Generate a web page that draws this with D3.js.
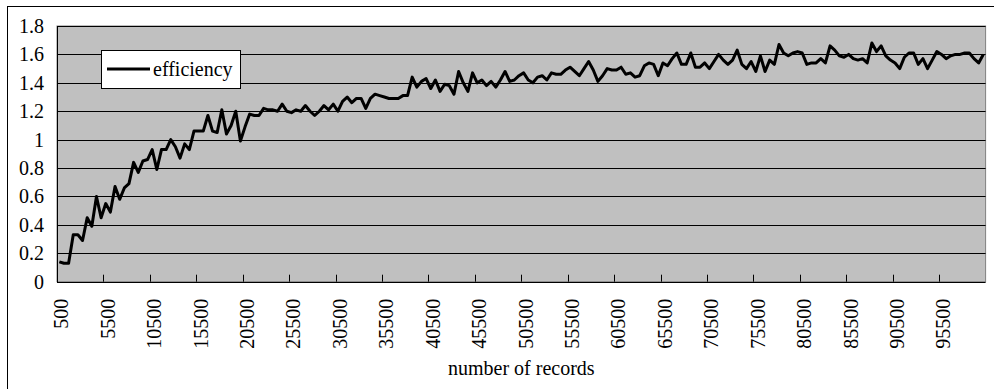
<!DOCTYPE html>
<html lang="en">
<head>
	<meta charset="utf-8">
	<title>efficiency vs number of records</title>
	<script src='https://d3js.org/d3.v7.min.js'></script>
	<style>
		body { margin:0; background:#fff; }
		text { font-family:"Liberation Serif","Times New Roman",serif; fill:#000; }
	</style>
</head>
<body>
	<div id="chart"></div>
	<script>
		// number of records: 500 .. 100000, step 500 (200 categories)
		var categories = d3.range(500, 100001, 500);
		var tickLabels = ["500","5500","10500","15500","20500","25500","30500","35500","40500","45500",
			"50500","55500","60500","65500","70500","75500","80500","85500","90500","95500"];
		var yTicks = [0, 0.2, 0.4, 0.6, 0.8, 1, 1.2, 1.4, 1.6, 1.8];
		var efficiency = [
			0.14,0.13,0.13,0.33,0.33,0.29,0.45,0.39,0.60,0.45,
			0.55,0.49,0.67,0.58,0.66,0.69,0.84,0.77,0.85,0.86,
			0.93,0.79,0.93,0.93,1.00,0.95,0.87,0.97,0.93,1.06,
			1.06,1.06,1.17,1.06,1.05,1.21,1.04,1.10,1.20,0.99,
			1.09,1.18,1.17,1.17,1.22,1.21,1.21,1.20,1.25,1.20,
			1.19,1.21,1.20,1.24,1.20,1.17,1.20,1.24,1.21,1.25,
			1.20,1.27,1.30,1.26,1.29,1.29,1.22,1.29,1.32,1.31,
			1.30,1.29,1.29,1.29,1.31,1.31,1.44,1.37,1.41,1.43,
			1.36,1.42,1.34,1.39,1.38,1.32,1.48,1.40,1.34,1.47,
			1.40,1.42,1.38,1.41,1.37,1.42,1.48,1.41,1.42,1.45,
			1.47,1.42,1.40,1.44,1.45,1.42,1.47,1.46,1.46,1.49,
			1.51,1.48,1.45,1.50,1.55,1.49,1.41,1.45,1.50,1.49,
			1.49,1.51,1.46,1.47,1.44,1.45,1.52,1.54,1.53,1.45,
			1.54,1.52,1.57,1.61,1.53,1.53,1.61,1.51,1.51,1.54,
			1.50,1.55,1.60,1.56,1.53,1.56,1.63,1.53,1.50,1.55,
			1.48,1.59,1.48,1.56,1.53,1.67,1.61,1.59,1.61,1.62,
			1.61,1.53,1.54,1.54,1.57,1.54,1.66,1.63,1.59,1.58,
			1.60,1.57,1.56,1.57,1.54,1.68,1.62,1.66,1.59,1.56,
			1.54,1.50,1.58,1.61,1.61,1.53,1.57,1.50,1.56,1.62,
			1.60,1.57,1.59,1.60,1.60,1.61,1.61,1.57,1.54,1.60
		];
		var seriesName = "efficiency";
		var xTitle = "number of records";

		const width = 994;
		const height = 389;
		const plot = {left:57, right:985.6, top:26, bottom:281.7};

		var svg = d3.select("#chart").append("svg")
			.attr("width", width)
			.attr("height", height);

		// chart area border (right and bottom edges fall outside the picture)
		svg.append("rect")
			.attr("x", 7.5).attr("y", 6.5)
			.attr("width", 1000).attr("height", 400)
			.attr("fill", "#fff")
			.attr("stroke", "#000");

		let xscale = d3.scaleBand()
			.domain(categories)
			.range([plot.left, plot.right]);
		let yscale = d3.scaleLinear()
			.domain([0, 1.8])
			.range([plot.bottom, plot.top]);
		let cx = function(c) { return xscale(c) + xscale.bandwidth()/2; };

		// plot area
		svg.append("rect")
			.attr("x", plot.left).attr("y", plot.top)
			.attr("width", plot.right - plot.left)
			.attr("height", plot.bottom - plot.top)
			.attr("fill", "#c0c0c0")
			.attr("stroke", "#808080");

		// gridlines
		svg.append("g")
			.selectAll("line")
			.data(yTicks.slice(1))
			.enter()
			.append("line")
			.attr("x1", plot.left).attr("x2", plot.right)
			.attr("y1", function(d) { return Math.round(yscale(d)) + 0.5; })
			.attr("y2", function(d) { return Math.round(yscale(d)) + 0.5; })
			.attr("stroke", "#000")
			.attr("stroke-width", 1);

		// y axis
		let y_axis = d3.axisLeft(yscale)
			.tickValues(yTicks)
			.tickSize(0)
			.tickPadding(13)
			.tickFormat(d3.format("~g"));
		let yAxisG = svg.append("g")
			.attr("transform", "translate(" + plot.left + ",0)")
			.call(y_axis);
		yAxisG.select(".domain").remove();
		yAxisG.selectAll("text")
			.style("font-size", "20px")
			.style("font-family", "'Liberation Serif', serif");

		// axis lines
		svg.append("line")
			.attr("x1", plot.left + 0.5).attr("x2", plot.left + 0.5)
			.attr("y1", plot.top).attr("y2", plot.bottom + 0.5)
			.attr("stroke", "#000");
		svg.append("line")
			.attr("x1", plot.left).attr("x2", plot.right)
			.attr("y1", Math.round(plot.bottom) + 0.5).attr("y2", Math.round(plot.bottom) + 0.5)
			.attr("stroke", "#000");

		// x tick marks every 10 categories (at category boundaries, pointing inward)
		var tickCats = categories.filter(function(d, i) { return i % 10 == 0 && i > 0; });
		svg.append("g")
			.selectAll("line")
			.data(tickCats)
			.enter()
			.append("line")
			.attr("x1", function(d) { return Math.round(xscale(d)) + 0.5; })
			.attr("x2", function(d) { return Math.round(xscale(d)) + 0.5; })
			.attr("y1", plot.bottom - 7).attr("y2", plot.bottom)
			.attr("stroke", "#000");

		// x tick labels (rotated)
		svg.append("g")
			.selectAll("text")
			.data(tickLabels)
			.enter()
			.append("text")
			.attr("transform", function(d) {
				return "translate(" + (cx(+d) + 9) + "," + (plot.bottom + 17) + ") rotate(-90)";
			})
			.attr("text-anchor", "end")
			.style("font-size", "20px")
			.text(function(d) { return d; });

		// x axis title
		svg.append("text")
			.attr("x", (plot.left + plot.right)/2)
			.attr("y", 375)
			.attr("text-anchor", "middle")
			.style("font-size", "20px")
			.text(xTitle);

		// series line
		let line = d3.line()
			.x(function(d, i) { return cx(categories[i]); })
			.y(function(d) { return yscale(d); });
		svg.append("path")
			.datum(efficiency)
			.attr("d", line)
			.attr("fill", "none")
			.attr("stroke", "#000")
			.attr("stroke-width", 3)
			.attr("stroke-linejoin", "round");

		// legend
		let legend = svg.append("g");
		legend.append("rect")
			.attr("x", 101.5).attr("y", 50.5)
			.attr("width", 139).attr("height", 38)
			.attr("fill", "#fff")
			.attr("stroke", "#000");
		legend.append("line")
			.attr("x1", 107).attr("x2", 150)
			.attr("y1", 69).attr("y2", 69)
			.attr("stroke", "#000")
			.attr("stroke-width", 3);
		legend.append("text")
			.attr("x", 153).attr("y", 76)
			.style("font-size", "20px")
			.text(seriesName);
	</script>
</body>
</html>
